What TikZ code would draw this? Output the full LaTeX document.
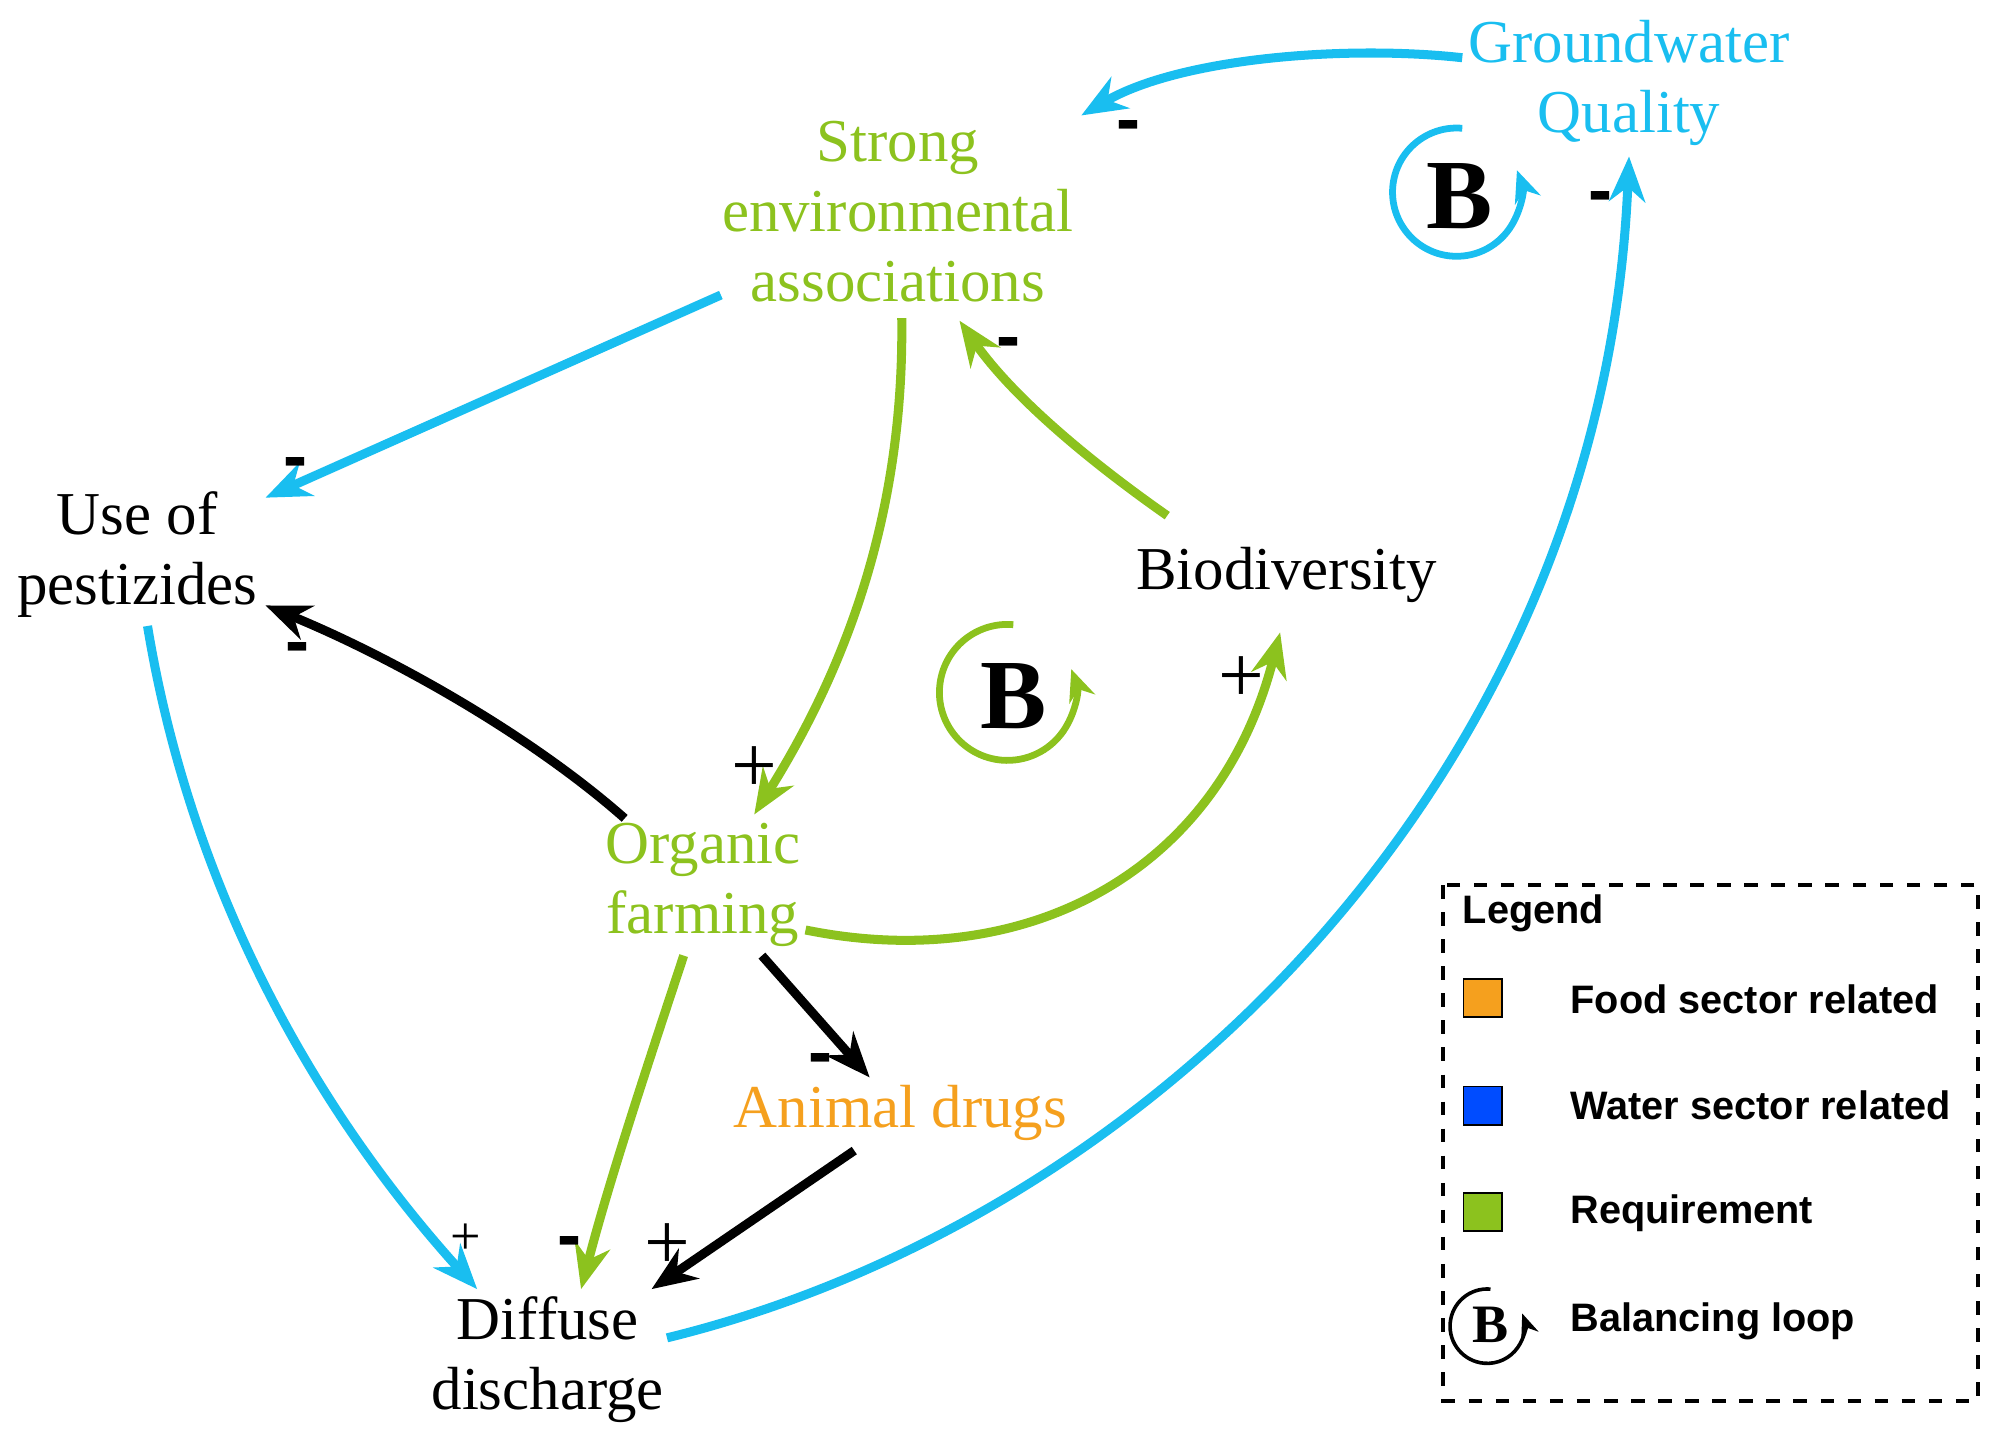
\documentclass[tikz,border=0pt]{standalone}
\usepackage{fontspec}
\setmainfont{Liberation Serif}
\newfontfamily\lsans{Liberation Sans}
\usetikzlibrary{arrows.meta}
\definecolor{cblue}{HTML}{19BEF0}
\definecolor{cgreen}{HTML}{8CC21E}
\definecolor{corange}{HTML}{F5A01E}
\begin{document}
\begin{tikzpicture}[x=0.01cm,y=-0.01cm,
  lab/.style={font=\fontsize{13.5}{15.5}\selectfont,align=center,inner sep=1pt},
  arr/.style={line width=2pt,-{Stealth[length=10pt,width=8pt]}},
  sg/.style={font=\bfseries\fontsize{16}{16}\selectfont\lsans},
  sgn/.style={font=\fontsize{18}{18}\selectfont},
  lg/.style={font=\bfseries\fontsize{8.8}{11}\selectfont\lsans,anchor=west}]
\useasboundingbox (0,0) rectangle (1560,1133);
\node[lab,cblue] (gw) at (1270,65) {Groundwater\\Quality};
\node[lab,cgreen] (sea) at (700,165) {Strong\\environmental\\associations};
\node[lab] (use) at (107,432) {Use of\\pestizides};
\node[lab] (bio) at (1003,448) {Biodiversity};
\node[lab,cgreen] (org) at (548,690) {Organic\\farming};
\node[lab,corange] (ani) at (702,868) {Animal drugs};
\node[lab] (dif) at (427,1060) {Diffuse\\discharge};
% endpoints
\coordinate (a1) at (1140,45); \coordinate (b1) at (843,90);
\coordinate (a2) at (562,230); \coordinate (b2) at (207,388);
\coordinate (a3) at (703,248); \coordinate (b3) at (588,635);
\coordinate (a4) at (910,402); \coordinate (b4) at (748,250);
\coordinate (a5) at (487,638); \coordinate (b5) at (207,472);
\coordinate (a6) at (628,725); \coordinate (b6) at (998,493);
\coordinate (a7) at (533,745); \coordinate (b7) at (453,1005);
\coordinate (a8) at (594,745); \coordinate (b8) at (678,840);
\coordinate (a9) at (666,897); \coordinate (b9) at (508,1005);
\coordinate (a10) at (115,488); \coordinate (b10) at (372,1005);
\coordinate (a11) at (520,1043); \coordinate (b11) at (1270,122);
\draw[arr,cblue] (a1) .. controls (1050,35) and (920,45) .. (b1);
\draw[arr,cblue] (a2) -- (b2);
\draw[arr,cgreen] (a3) .. controls (705,400) and (660,520) .. (b3);
\draw[arr,cgreen] (a4) .. controls (850,360) and (790,310) .. (b4);
\draw[arr] (a5) .. controls (410,570) and (300,510) .. (b5);
\draw[arr,cgreen] (a6) .. controls (800,760) and (950,680) .. (b6);
\draw[arr,cgreen] (a7) .. controls (505,830) and (475,920) .. (b7);
\draw[arr] (a8) -- (b8);
\draw[arr] (a9) -- (b9);
\draw[arr,cblue] (a10) .. controls (150,700) and (250,870) .. (b10);
\draw[arr,cblue] (a11) .. controls (900,950) and (1250,600) .. (b11);
% signs
\node[sg] at (880,103) {-};
\node[sg] at (1248,158) {-};
\node[sg] at (230,366) {-};
\node[sg] at (232,510) {-};
\node[sg] at (786,272) {-};
\node[sg] at (444,973) {-};
\node[sg] at (640,830) {-};
\node[sgn] at (588,600) {+};
\node[sgn] at (968,530) {+};
\node[sgn] at (520,972) {+};
\node[font=\fontsize{12}{12}\selectfont] at (363,966) {+};
% loops
\node[font=\bfseries\fontsize{22}{22}\selectfont] (lb1) at (1138,153) {B};
\draw[cblue,line width=1.5pt,-{Stealth[length=7pt,width=6pt]}] (1140,100) arc[start angle=95,end angle=-200,radius=-50] ;
\node[font=\bfseries\fontsize{22}{22}\selectfont] (lb2) at (790,543) {B};
\draw[cgreen,line width=1.5pt,-{Stealth[length=7pt,width=6pt]}] (790,487) arc[start angle=95,end angle=-200,radius=-53];
% legend
\draw[dashed,line width=0.8pt] (1125,690) rectangle (1542,1092);
\node[lg] at (1128,712) {Legend};
\draw[fill=corange] (1141,763) rectangle (1171,793); \node[lg] at (1212,779) {Food sector related};
\draw[fill=blue!70!cyan] (1141,847) rectangle (1171,877); \node[lg] at (1212,862) {Water sector related};
\draw[fill=cgreen] (1141,930) rectangle (1171,960); \node[lg] at (1212,946) {Requirement};
\node[font=\bfseries\fontsize{12}{12}\selectfont] at (1162,1033) {B};
\draw[line width=0.8pt,-{Stealth[length=5pt,width=4pt]}] (1162,1005) arc[start angle=95,end angle=-200,radius=-29];
\node[lg] at (1212,1030) {Balancing loop};
\end{tikzpicture}
\end{document}
